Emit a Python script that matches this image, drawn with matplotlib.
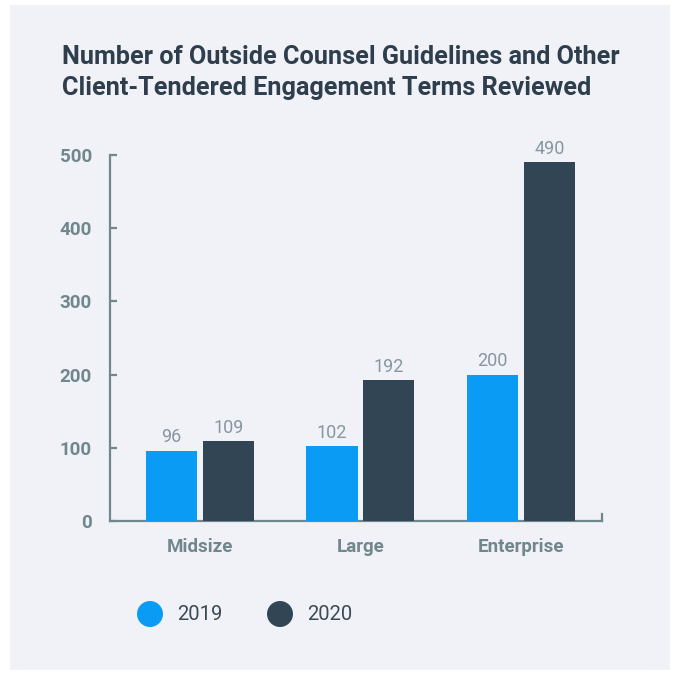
import numpy as np
import matplotlib
matplotlib.use("Agg")
import matplotlib.pyplot as plt
from matplotlib.patches import Rectangle

# firm size categories and engagement terms reviewed per year
categories = ["Midsize", "Large", "Enterprise"]
reviewed_2019 = [96, 102, 200]
reviewed_2020 = [109, 192, 490]
years = ["2019", "2020"]
yticks = [0, 100, 200, 300, 400, 500]

c2019 = "#0a9cf5"
c2020 = "#324554"
axis_col = "#6f878d"
label_col = "#8796a0"
panel_col = "#f1f2f7"

plt.rcParams["font.family"] = ["Roboto", "DejaVu Sans"]

fig = plt.figure(figsize=(6.73, 6.73), dpi=100)
fig.patch.set_facecolor("white")
fig.patches.append(Rectangle((10/673, 3/673), 660/673, 665/673, transform=fig.transFigure,
                             facecolor=panel_col, edgecolor="none", zorder=-5))

ax = fig.add_axes([110/673, 152/673, 492/673, 366/673])
ax.set_facecolor("none")
ax.set_zorder(2)

x = np.arange(len(categories))
w = 0.318
off = 0.177
b1 = ax.bar(x - off, reviewed_2019, w, color=c2019, zorder=3)
b2 = ax.bar(x + off, reviewed_2020, w, color=c2020, zorder=3)

for bars, vals in [(b1, reviewed_2019), (b2, reviewed_2020)]:
    for b, v in zip(bars, vals):
        ax.text(b.get_x() + b.get_width()/2, v + 6, str(v), ha="center", va="bottom",
                fontsize=13, fontweight="normal", color=label_col, clip_on=False)

ax.set_xlim(-0.56, 2.505)
ax.set_ylim(0, 500)
ax.set_yticks(yticks)
ax.set_yticklabels([str(t) for t in yticks], fontsize=13.5, fontweight="bold", color=axis_col)
ax.tick_params(axis="y", direction="in", length=5, width=1.6, color=axis_col, pad=13)
ax.set_xticks(x)
ax.set_xticklabels(categories, fontsize=13.5, fontweight="bold", color=axis_col)
ax.tick_params(axis="x", length=0, pad=12)

for s in ["top", "right"]:
    ax.spines[s].set_visible(False)
for s in ["left", "bottom"]:
    ax.spines[s].set_color(axis_col)
    ax.spines[s].set_linewidth(1.6)
# small end cap on the right of the baseline
ax.plot([2.505, 2.505], [0, 10], color=axis_col, lw=1.6, clip_on=False, zorder=4)

# title
fig.text(62/673, 1 - 57/673, "Number of Outside Counsel Guidelines and Other",
         fontsize=18.2, fontweight="semibold", color="#2e3e4d", va="center", ha="left")
fig.text(62/673, 1 - 88/673, "Client-Tendered Engagement Terms Reviewed",
         fontsize=18.2, fontweight="semibold", color="#2e3e4d", va="center", ha="left")

# legend
for cx, tx, col, lab in [(150, 177, c2019, years[0]), (280, 307, c2020, years[1])]:
    fig.patches.append(plt.Circle((cx/673, 1 - 614/673), 13/673, transform=fig.transFigure,
                                  facecolor=col, edgecolor="none"))
    fig.text(tx/673, 1 - 614/673, lab, fontsize=14.5, color="#3a4a56", va="center", ha="left")

fig.savefig("out.png", dpi=100, facecolor=fig.get_facecolor())
